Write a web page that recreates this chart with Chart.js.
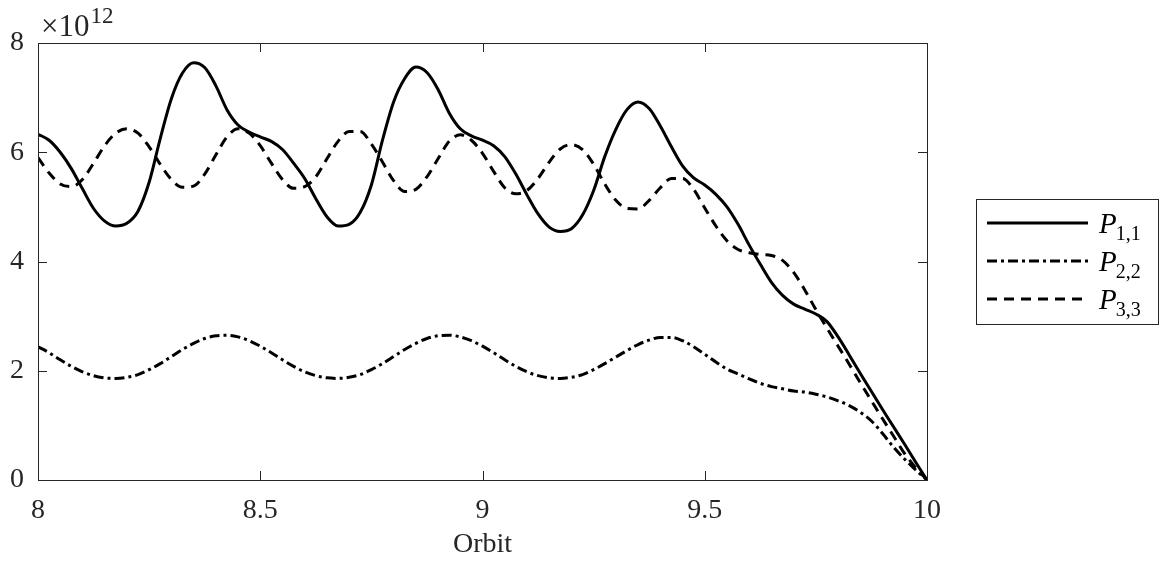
<!DOCTYPE html>
<html>
<head>
<meta charset="utf-8">
<script src="https://cdn.jsdelivr.net/npm/chart.js@4"></script>
<style>
  html, body { margin: 0; padding: 0; background: #fff; }
  #wrap { width: 1169px; height: 565px; position: relative; }
</style>
</head>
<body>
<div id="wrap"><canvas id="orbitChart" width="1169" height="565"></canvas></div>
<script>
// Orbit values (x axis)
const orbit = [8, 8.025, 8.05, 8.075, 8.1, 8.125, 8.15, 8.175, 8.2, 8.225,
    8.25, 8.275, 8.3, 8.325, 8.35, 8.375, 8.4, 8.425, 8.45, 8.475,
    8.5, 8.525, 8.55, 8.575, 8.6, 8.625, 8.65, 8.675, 8.7, 8.725,
    8.75, 8.775, 8.8, 8.825, 8.85, 8.875, 8.9, 8.925, 8.95, 8.975,
    9, 9.025, 9.05, 9.075, 9.1, 9.125, 9.15, 9.175, 9.2, 9.225,
    9.25, 9.275, 9.3, 9.325, 9.35, 9.375, 9.4, 9.425, 9.45, 9.475,
    9.5, 9.525, 9.55, 9.575, 9.6, 9.625, 9.65, 9.675, 9.7, 9.725,
    9.75, 9.775, 9.8, 9.825, 9.85, 9.875, 9.9, 9.925, 9.95, 9.975,
    10];

// Values in units of 1e12
const p11 = [6.33, 6.22, 6.0, 5.7, 5.33, 4.97, 4.74, 4.65, 4.7, 4.92,
    5.45, 6.25, 6.98, 7.45, 7.64, 7.55, 7.22, 6.78, 6.5, 6.37,
    6.28, 6.2, 6.05, 5.8, 5.52, 5.15, 4.82, 4.65, 4.68, 4.9,
    5.4, 6.22, 6.92, 7.35, 7.56, 7.46, 7.15, 6.72, 6.43, 6.3,
    6.22, 6.12, 5.92, 5.6, 5.22, 4.87, 4.63, 4.55, 4.6, 4.85,
    5.3, 5.92, 6.42, 6.78, 6.92, 6.8, 6.48, 6.1, 5.75, 5.53,
    5.4, 5.23, 5.0, 4.68, 4.3, 3.95, 3.62, 3.38, 3.22, 3.13,
    3.04, 2.9, 2.62, 2.29, 1.95, 1.62, 1.29, 0.97, 0.65, 0.32,
    0];

const p22 = [2.44, 2.33, 2.2, 2.08, 1.98, 1.91, 1.87, 1.86, 1.88, 1.93,
    2.02, 2.13, 2.26, 2.39, 2.5, 2.59, 2.64, 2.65, 2.62, 2.55,
    2.45, 2.33, 2.2, 2.08, 1.98, 1.91, 1.87, 1.86, 1.88, 1.93,
    2.02, 2.13, 2.26, 2.39, 2.5, 2.59, 2.64, 2.65, 2.62, 2.55,
    2.45, 2.33, 2.2, 2.08, 1.98, 1.91, 1.87, 1.86, 1.88, 1.93,
    2.02, 2.13, 2.25, 2.37, 2.48, 2.56, 2.61, 2.61, 2.55, 2.44,
    2.3, 2.16, 2.03, 1.94, 1.85, 1.77, 1.71, 1.67, 1.63, 1.61,
    1.57, 1.52, 1.45, 1.36, 1.24, 1.08, 0.85, 0.6, 0.38, 0.18,
    0];

const p33 = [5.9, 5.62, 5.42, 5.37, 5.5, 5.8, 6.12, 6.35, 6.43, 6.35,
    6.1, 5.78, 5.5, 5.36, 5.38, 5.6, 5.95, 6.28, 6.43, 6.35,
    6.12, 5.8, 5.5, 5.34, 5.37, 5.55, 5.88, 6.2, 6.38, 6.38,
    6.15, 5.82, 5.48, 5.28, 5.32, 5.55, 5.88, 6.2, 6.32, 6.22,
    5.98, 5.65, 5.35, 5.24, 5.3, 5.52, 5.82, 6.06, 6.14, 6.05,
    5.78, 5.42, 5.12, 4.97, 4.96, 5.12, 5.35, 5.52, 5.52, 5.32,
    4.98, 4.65, 4.38, 4.22, 4.16, 4.13, 4.11, 4.02, 3.8, 3.48,
    3.12, 2.78, 2.45, 2.12, 1.78, 1.45, 1.12, 0.8, 0.48, 0.22,
    0];

const xTicks = [8, 8.5, 9, 9.5, 10];
const yTicks = [0, 2, 4, 6, 8];
const seriesNames = ['1,1', '2,2', '3,3'];

const axisColor = '#262626';
const serif = "'Liberation Serif', 'Times New Roman', serif";
Chart.defaults.font.family = serif;
Chart.defaults.color = axisColor;

const toPoints = (vals) => vals.map((v, i) => ({ x: orbit[i], y: v }));

// Box, inward ticks, exponent label and legend (MATLAB look)
const matlabFrame = {
    id: 'matlabFrame',
    afterDraw(chart) {
        const ctx = chart.ctx;
        const { left, right, top, bottom } = chart.chartArea;
        const xs = chart.scales.x, ys = chart.scales.y;
        const tick = 9;
        ctx.save();
        ctx.strokeStyle = axisColor;
        ctx.lineWidth = 1;
        ctx.strokeRect(left + 0.5, top + 0.5, right - left, bottom - top);
        ctx.beginPath();
        xTicks.forEach(v => {
            const px = Math.round(xs.getPixelForValue(v)) + 0.5;
            ctx.moveTo(px, bottom); ctx.lineTo(px, bottom - tick);
            ctx.moveTo(px, top); ctx.lineTo(px, top + tick);
        });
        yTicks.forEach(v => {
            const py = Math.round(ys.getPixelForValue(v)) + 0.5;
            ctx.moveTo(left, py); ctx.lineTo(left + tick, py);
            ctx.moveTo(right, py); ctx.lineTo(right - tick, py);
        });
        ctx.stroke();

        // x10^12
        ctx.fillStyle = axisColor;
        ctx.textBaseline = 'alphabetic';
        ctx.font = `31px ${serif}`;
        ctx.fillText('\u00d710', 41, 36);
        const w = ctx.measureText('\u00d710').width;
        ctx.font = `23px ${serif}`;
        ctx.fillText('12', 41 + w + 1, 23);

        // legend
        const bx = 976, by = 199, bw = 182, bh = 125;
        ctx.fillStyle = '#fff';
        ctx.fillRect(bx, by, bw, bh);
        ctx.strokeStyle = axisColor;
        ctx.lineWidth = 1;
        ctx.strokeRect(bx + 0.5, by + 0.5, bw, bh);
        chart.data.datasets.forEach((ds, i) => {
            const ly = 223 + i * 38;
            ctx.save();
            ctx.strokeStyle = '#000';
            ctx.lineWidth = ds.borderWidth;
            ctx.setLineDash(ds.borderDash || []);
            ctx.beginPath();
            ctx.moveTo(987, ly);
            ctx.lineTo(1088, ly);
            ctx.stroke();
            ctx.restore();
            ctx.fillStyle = '#000';
            ctx.font = `italic 29px ${serif}`;
            ctx.fillText('P', 1099, ly + 10);
            const pw = ctx.measureText('P').width;
            ctx.font = `20px ${serif}`;
            ctx.fillText(seriesNames[i], 1099 + pw - 1, ly + 17);
        });
        ctx.restore();
    }
};

const ctx = document.getElementById('orbitChart').getContext('2d');
const orbitChart = new Chart(ctx, {
    type: 'line',
    data: {
        datasets: [{
            label: 'P1,1',
            data: toPoints(p11),
            borderColor: '#000',
            borderWidth: 3,
            pointRadius: 0,
            cubicInterpolationMode: 'monotone'
        }, {
            label: 'P2,2',
            data: toPoints(p22),
            borderColor: '#000',
            borderWidth: 3,
            borderDash: [10, 4, 3, 4],
            pointRadius: 0,
            cubicInterpolationMode: 'monotone'
        }, {
            label: 'P3,3',
            data: toPoints(p33),
            borderColor: '#000',
            borderWidth: 3,
            borderDash: [10, 7],
            pointRadius: 0,
            cubicInterpolationMode: 'monotone'
        }]
    },
    options: {
        responsive: false,
        animation: false,
        layout: { padding: { left: 0, right: 242, top: 43, bottom: 0 } },
        plugins: {
            legend: { display: false },
            tooltip: { enabled: false }
        },
        scales: {
            x: {
                type: 'linear',
                min: 8,
                max: 10,
                afterBuildTicks: (scale) => { scale.ticks = xTicks.map(v => ({ value: v })); },
                afterFit: (scale) => { scale.height = 85; },
                ticks: {
                    font: { size: 28 },
                    color: axisColor,
                    padding: 14,
                    maxRotation: 0,
                    callback: (v) => String(v)
                },
                grid: { display: false, drawTicks: false },
                border: { display: false },
                title: {
                    display: true,
                    text: 'Orbit',
                    font: { size: 28 },
                    color: axisColor,
                    padding: { top: 0, bottom: 4 }
                }
            },
            y: {
                min: 0,
                max: 8,
                afterBuildTicks: (scale) => { scale.ticks = yTicks.map(v => ({ value: v })); },
                afterFit: (scale) => { scale.width = 38; },
                ticks: {
                    font: { size: 28 },
                    color: axisColor,
                    padding: 14
                },
                grid: { display: false, drawTicks: false },
                border: { display: false }
            }
        }
    },
    plugins: [matlabFrame]
});
</script>
</body>
</html>
